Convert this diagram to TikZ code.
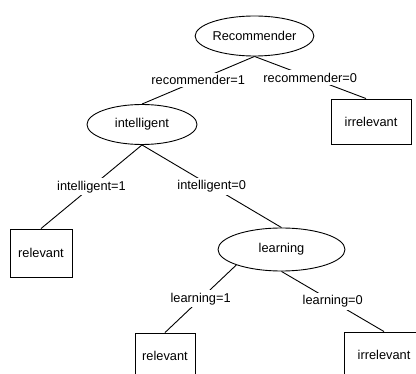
\documentclass[tikz,border=0pt]{standalone}
\usepackage{fontspec}
\setmainfont{Liberation Sans}
\usetikzlibrary{shapes.geometric}
\begin{document}
\begin{tikzpicture}[x=1pt,y=-1pt,
  every node/.style={font=\fontsize{12.8}{15}\selectfont},
  inode/.style={draw, ellipse, line width=0.9pt, inner sep=0pt},
  leaf/.style={draw, rectangle, line width=0.9pt, inner sep=0pt},
  edge/.style={line width=0.9pt},
  lbl/.style={midway, fill=white, inner sep=2.5pt}]
\useasboundingbox (0,0) rectangle (416,374);
\node[inode, minimum width=103pt, minimum height=40pt] (rec) at (254.5,36) {Recommender};
\node[inode, minimum width=110pt, minimum height=40pt] (int) at (142,124.5) {intelligent};
\node[leaf, minimum width=80pt, minimum height=45pt] (irr1) at (371,121.5) {irrelevant};
\node[leaf, minimum width=62pt, minimum height=48pt] (rel1) at (41,253) {relevant};
\node[inode, minimum width=127pt, minimum height=43pt] (learn) at (281.5,249.5) {learning};
\node[leaf, minimum width=60pt, minimum height=45pt] (rel2) at (165,355.5) {relevant};
\node[leaf, minimum width=80pt, minimum height=45pt] (irr2) at (384,354.5) {irrelevant};
\draw[edge] (rec.south) -- node[lbl] (l1) {recommender=1} (int.north);
\draw[edge] (rec.south) -- node[lbl] (l2) {recommender=0} (irr1.north -| 366,0);
\draw[edge] (int.south) -- node[lbl] (l3) {intelligent=1} (rel1.north);
\draw[edge] (int.south) -- node[lbl] (l4) {intelligent=0} (learn.north);
\draw[edge] (learn.south west) -- node[lbl] (l5) {learning=1} (rel2.north);
\draw[edge] (learn.south) -- node[lbl] (l6) {learning=0} (irr2.north);
\end{tikzpicture}
\end{document}
